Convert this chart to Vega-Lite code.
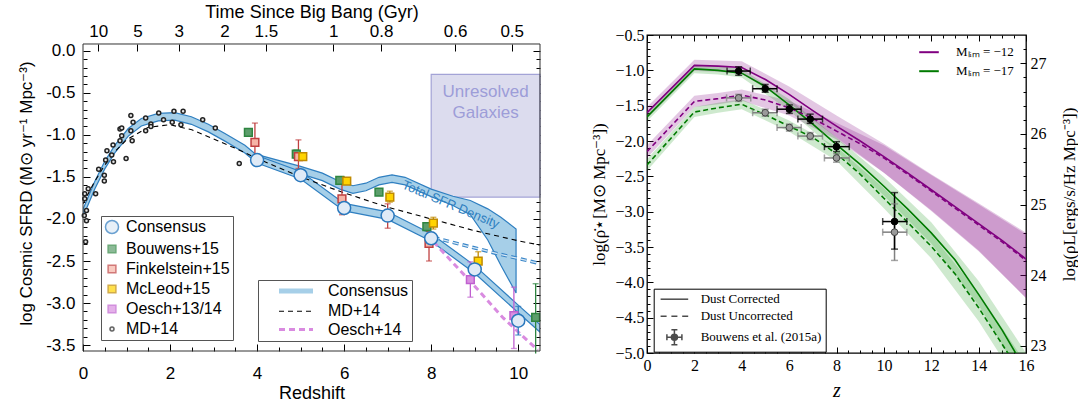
{
  "$schema": "https://vega.github.io/schema/vega-lite/v6.json",
  "padding": {"left": 17, "top": 3, "right": 0, "bottom": 0},
  "spacing": 47,
  "resolve": {
    "scale": {"color": "independent", "fill": "independent", "stroke": "independent", "shape": "independent", "size": "independent", "strokeDash": "independent", "strokeWidth": "independent"},
    "legend": {"color": "independent", "fill": "independent", "stroke": "independent", "shape": "independent", "size": "independent", "strokeDash": "independent", "strokeWidth": "independent"}
  },
  "config": {
    "axis": {"domain": false, "grid": false, "tickColor": "black", "labelColor": "black", "titleColor": "black", "titleFontWeight": "normal"},
    "legend": {"titleLimit": 0, "labelLimit": 0}
  },
  "datasets": {
    "frame": [{"z1": 0, "z2": 10.5, "v1": -3.57, "v2": 0.08}],
    "unres": [{"z1": 8.0, "z2": 10.5, "v1": -0.28, "v2": -1.74}],
    "ltext": [
      {"kind": "unres", "z": 9.25, "v": -0.49, "label": "Unresolved"},
      {"kind": "unres", "z": 9.25, "v": -0.74, "label": "Galaxies"},
      {"kind": "sfr", "z": 8.45, "v": -1.83, "label": "Total SFR Density"}
    ],
    "bandA": [
      {"z": 0, "lo": -1.975, "hi": -1.885},
      {"z": 0.27, "lo": -1.645, "hi": -1.555},
      {"z": 0.5, "lo": -1.405, "hi": -1.315},
      {"z": 0.73, "lo": -1.215, "hi": -1.125},
      {"z": 1.04, "lo": -1.015, "hi": -0.925},
      {"z": 1.34, "lo": -0.895, "hi": -0.805},
      {"z": 1.73, "lo": -0.835, "hi": -0.745},
      {"z": 2.11, "lo": -0.825, "hi": -0.735},
      {"z": 2.49, "lo": -0.875, "hi": -0.785},
      {"z": 2.88, "lo": -0.965, "hi": -0.875},
      {"z": 3.26, "lo": -1.075, "hi": -0.985},
      {"z": 3.72, "lo": -1.215, "hi": -1.125},
      {"z": 4.0, "lo": -1.335, "hi": -1.245},
      {"z": 5.0, "lo": -1.525, "hi": -1.435},
      {"z": 6.0, "lo": -1.905, "hi": -1.815},
      {"z": 7.0, "lo": -2.005, "hi": -1.915},
      {"z": 8.0, "lo": -2.265, "hi": -2.175},
      {"z": 9.0, "lo": -2.645, "hi": -2.555},
      {"z": 10.0, "lo": -3.115, "hi": -3.025},
      {"z": 10.5, "lo": -3.345, "hi": -3.255}
    ],
    "bandB": [
      {"z": 4.0, "lo": -1.325, "hi": -1.235},
      {"z": 5.0, "lo": -1.465, "hi": -1.375},
      {"z": 5.5, "lo": -1.545, "hi": -1.455},
      {"z": 5.9, "lo": -1.645, "hi": -1.555},
      {"z": 6.2, "lo": -1.695, "hi": -1.605},
      {"z": 6.5, "lo": -1.665, "hi": -1.575},
      {"z": 6.8, "lo": -1.595, "hi": -1.505},
      {"z": 7.1, "lo": -1.565, "hi": -1.475},
      {"z": 7.4, "lo": -1.595, "hi": -1.505},
      {"z": 8.0, "lo": -1.735, "hi": -1.645},
      {"z": 8.5, "lo": -1.84, "hi": -1.73},
      {"z": 8.9, "lo": -1.95, "hi": -1.78},
      {"z": 9.3, "lo": -2.25, "hi": -1.88},
      {"z": 9.6, "lo": -2.55, "hi": -1.98},
      {"z": 9.95, "lo": -2.88, "hi": -2.12}
    ],
    "cext": [
      {"z": 8.05, "v": -2.22},
      {"z": 9.5, "v": -2.41},
      {"z": 10.5, "v": -2.53}
    ],
    "llines": [
      {"line": "MD+14", "z": 0, "v": -1.82},
      {"line": "MD+14", "z": 0.25, "v": -1.57},
      {"line": "MD+14", "z": 0.5, "v": -1.36},
      {"line": "MD+14", "z": 0.75, "v": -1.19},
      {"line": "MD+14", "z": 1.0, "v": -1.06},
      {"line": "MD+14", "z": 1.5, "v": -0.91},
      {"line": "MD+14", "z": 2.0, "v": -0.88},
      {"line": "MD+14", "z": 2.5, "v": -0.94},
      {"line": "MD+14", "z": 3.0, "v": -1.05},
      {"line": "MD+14", "z": 3.5, "v": -1.16},
      {"line": "MD+14", "z": 4.0, "v": -1.28},
      {"line": "MD+14", "z": 5.0, "v": -1.50},
      {"line": "MD+14", "z": 6.0, "v": -1.69},
      {"line": "MD+14", "z": 7.0, "v": -1.86},
      {"line": "MD+14", "z": 8.0, "v": -2.00},
      {"line": "MD+14", "z": 9.0, "v": -2.14},
      {"line": "MD+14", "z": 10.0, "v": -2.26},
      {"line": "MD+14", "z": 10.5, "v": -2.31},
      {"line": "Oesch+14", "z": 8.05, "v": -2.27},
      {"line": "Oesch+14", "z": 9.0, "v": -2.80},
      {"line": "Oesch+14", "z": 9.66, "v": -3.18},
      {"line": "Oesch+14", "z": 10.45, "v": -3.56}
    ],
    "obs": [
      {"src": "MD+14", "z": 0.04, "v": -1.70},
      {"src": "MD+14", "z": 0.04, "v": -1.76},
      {"src": "MD+14", "z": 0.08, "v": -1.90},
      {"src": "MD+14", "z": 0.03, "v": -1.96},
      {"src": "MD+14", "z": 0.08, "v": -2.02},
      {"src": "MD+14", "z": 0.06, "v": -2.27},
      {"src": "MD+14", "z": 0.12, "v": -1.64},
      {"src": "MD+14", "z": 0.29, "v": -1.70},
      {"src": "MD+14", "z": 0.36, "v": -1.41},
      {"src": "MD+14", "z": 0.49, "v": -1.48},
      {"src": "MD+14", "z": 0.49, "v": -1.55},
      {"src": "MD+14", "z": 0.55, "v": -1.19},
      {"src": "MD+14", "z": 0.52, "v": -1.30},
      {"src": "MD+14", "z": 0.66, "v": -1.24},
      {"src": "MD+14", "z": 0.70, "v": -1.32},
      {"src": "MD+14", "z": 0.69, "v": -1.12},
      {"src": "MD+14", "z": 0.85, "v": -0.93},
      {"src": "MD+14", "z": 0.89, "v": -0.92},
      {"src": "MD+14", "z": 0.89, "v": -1.01},
      {"src": "MD+14", "z": 0.85, "v": -1.07},
      {"src": "MD+14", "z": 0.99, "v": -1.28},
      {"src": "MD+14", "z": 1.10, "v": -0.77},
      {"src": "MD+14", "z": 1.15, "v": -0.85},
      {"src": "MD+14", "z": 1.10, "v": -0.95},
      {"src": "MD+14", "z": 1.13, "v": -1.07},
      {"src": "MD+14", "z": 1.44, "v": -0.80},
      {"src": "MD+14", "z": 1.44, "v": -0.95},
      {"src": "MD+14", "z": 1.56, "v": -0.87},
      {"src": "MD+14", "z": 1.56, "v": -0.90},
      {"src": "MD+14", "z": 1.74, "v": -0.74},
      {"src": "MD+14", "z": 1.85, "v": -0.82},
      {"src": "MD+14", "z": 2.05, "v": -0.85},
      {"src": "MD+14", "z": 2.09, "v": -0.72},
      {"src": "MD+14", "z": 2.25, "v": -0.88},
      {"src": "MD+14", "z": 2.30, "v": -0.72},
      {"src": "MD+14", "z": 2.75, "v": -0.82},
      {"src": "MD+14", "z": 3.04, "v": -0.92},
      {"src": "MD+14", "z": 3.59, "v": -1.34},
      {"src": "Bouwens+15", "z": 3.8, "v": -0.97, "lo": -1.00, "hi": -0.94},
      {"src": "Bouwens+15", "z": 4.9, "v": -1.23, "lo": -1.28, "hi": -1.18},
      {"src": "Bouwens+15", "z": 5.9, "v": -1.54, "lo": -1.58, "hi": -1.50},
      {"src": "Bouwens+15", "z": 6.8, "v": -1.68, "lo": -1.72, "hi": -1.64},
      {"src": "Bouwens+15", "z": 7.9, "v": -2.09, "lo": -2.14, "hi": -2.05},
      {"src": "Bouwens+15", "z": 10.4, "v": -3.17, "lo": -3.60, "hi": -2.77},
      {"src": "Finkelstein+15", "z": 3.95, "v": -1.09, "lo": -1.28, "hi": -0.86},
      {"src": "Finkelstein+15", "z": 4.95, "v": -1.26, "lo": -1.40, "hi": -1.06},
      {"src": "Finkelstein+15", "z": 5.95, "v": -1.76, "lo": -1.95, "hi": -1.50},
      {"src": "Finkelstein+15", "z": 7.0, "v": -1.97, "lo": -2.11, "hi": -1.82},
      {"src": "Finkelstein+15", "z": 7.95, "v": -2.29, "lo": -2.50, "hi": -2.15},
      {"src": "McLeod+15", "z": 5.05, "v": -1.26, "lo": -1.30, "hi": -1.22},
      {"src": "McLeod+15", "z": 6.06, "v": -1.55, "lo": -1.59, "hi": -1.51},
      {"src": "McLeod+15", "z": 7.05, "v": -1.74, "lo": -1.80, "hi": -1.67},
      {"src": "McLeod+15", "z": 8.05, "v": -2.05, "lo": -2.12, "hi": -1.98},
      {"src": "McLeod+15", "z": 9.08, "v": -2.50, "lo": -2.60, "hi": -2.39},
      {"src": "Oesch+13/14", "z": 8.9, "v": -2.72, "lo": -2.93, "hi": -2.51},
      {"src": "Oesch+13/14", "z": 9.9, "v": -3.15, "lo": -3.54, "hi": -2.81},
      {"src": "Consensus", "z": 4.0, "v": -1.30, "lo": -1.33, "hi": -1.27},
      {"src": "Consensus", "z": 5.0, "v": -1.48, "lo": -1.51, "hi": -1.45},
      {"src": "Consensus", "z": 6.0, "v": -1.87, "lo": -1.90, "hi": -1.84},
      {"src": "Consensus", "z": 7.0, "v": -1.96, "lo": -1.99, "hi": -1.93},
      {"src": "Consensus", "z": 8.0, "v": -2.23, "lo": -2.27, "hi": -2.19},
      {"src": "Consensus", "z": 9.0, "v": -2.60, "lo": -2.65, "hi": -2.55},
      {"src": "Consensus", "z": 10.0, "v": -3.21, "lo": -3.38, "hi": -3.04}
    ],
    "rbands": [
      {"band": "p_c", "z": 0, "lo": -1.68, "hi": -1.52},
      {"band": "p_c", "z": 2, "lo": -1.01, "hi": -0.85},
      {"band": "p_c", "z": 3, "lo": -1.02, "hi": -0.86},
      {"band": "p_c", "z": 4, "lo": -1.05, "hi": -0.87},
      {"band": "p_c", "z": 6, "lo": -1.46, "hi": -1.23},
      {"band": "p_c", "z": 8, "lo": -1.95, "hi": -1.64},
      {"band": "p_c", "z": 10, "lo": -2.45, "hi": -2.04},
      {"band": "p_c", "z": 12, "lo": -2.98, "hi": -2.47},
      {"band": "p_c", "z": 14, "lo": -3.55, "hi": -2.88},
      {"band": "p_c", "z": 16, "lo": -4.22, "hi": -3.30},
      {"band": "p_u", "z": 0, "lo": -2.24, "hi": -2.06},
      {"band": "p_u", "z": 2, "lo": -1.52, "hi": -1.36},
      {"band": "p_u", "z": 3, "lo": -1.48, "hi": -1.32},
      {"band": "p_u", "z": 4, "lo": -1.43, "hi": -1.27},
      {"band": "p_u", "z": 6, "lo": -1.64, "hi": -1.43},
      {"band": "p_u", "z": 8, "lo": -1.98, "hi": -1.74},
      {"band": "p_u", "z": 10, "lo": -2.45, "hi": -2.06},
      {"band": "p_u", "z": 12, "lo": -2.99, "hi": -2.48},
      {"band": "p_u", "z": 14, "lo": -3.56, "hi": -2.90},
      {"band": "p_u", "z": 16, "lo": -4.22, "hi": -3.32},
      {"band": "g_c", "z": 0, "lo": -1.72, "hi": -1.60},
      {"band": "g_c", "z": 2, "lo": -1.04, "hi": -0.92},
      {"band": "g_c", "z": 3, "lo": -1.06, "hi": -0.94},
      {"band": "g_c", "z": 4, "lo": -1.10, "hi": -0.98},
      {"band": "g_c", "z": 6, "lo": -1.57, "hi": -1.41},
      {"band": "g_c", "z": 8, "lo": -2.15, "hi": -1.95},
      {"band": "g_c", "z": 10, "lo": -2.77, "hi": -2.51},
      {"band": "g_c", "z": 12, "lo": -3.45, "hi": -3.15},
      {"band": "g_c", "z": 14, "lo": -4.32, "hi": -3.98},
      {"band": "g_c", "z": 16, "lo": -5.45, "hi": -5.0},
      {"band": "g_u", "z": 0, "lo": -2.42, "hi": -2.26},
      {"band": "g_u", "z": 2, "lo": -1.66, "hi": -1.52},
      {"band": "g_u", "z": 3, "lo": -1.60, "hi": -1.46},
      {"band": "g_u", "z": 4, "lo": -1.55, "hi": -1.41},
      {"band": "g_u", "z": 6, "lo": -1.87, "hi": -1.71},
      {"band": "g_u", "z": 8, "lo": -2.28, "hi": -2.08},
      {"band": "g_u", "z": 10, "lo": -2.95, "hi": -2.67},
      {"band": "g_u", "z": 12, "lo": -3.66, "hi": -3.32},
      {"band": "g_u", "z": 14, "lo": -4.55, "hi": -4.15},
      {"band": "g_u", "z": 16, "lo": -5.6, "hi": -5.15}
    ],
    "rlines": [
      {"m": "-12", "dust": "c", "z": 0, "v": -1.60},
      {"m": "-12", "dust": "c", "z": 2, "v": -0.93},
      {"m": "-12", "dust": "c", "z": 3, "v": -0.94},
      {"m": "-12", "dust": "c", "z": 4, "v": -0.96},
      {"m": "-12", "dust": "c", "z": 5, "v": -1.13},
      {"m": "-12", "dust": "c", "z": 6, "v": -1.34},
      {"m": "-12", "dust": "c", "z": 7, "v": -1.57},
      {"m": "-12", "dust": "c", "z": 8, "v": -1.79},
      {"m": "-12", "dust": "c", "z": 9, "v": -2.00},
      {"m": "-12", "dust": "c", "z": 10, "v": -2.22},
      {"m": "-12", "dust": "c", "z": 11, "v": -2.45},
      {"m": "-12", "dust": "c", "z": 12, "v": -2.69},
      {"m": "-12", "dust": "c", "z": 13, "v": -2.93},
      {"m": "-12", "dust": "c", "z": 14, "v": -3.17},
      {"m": "-12", "dust": "c", "z": 15, "v": -3.41},
      {"m": "-12", "dust": "c", "z": 16, "v": -3.67},
      {"m": "-12", "dust": "u", "z": 0, "v": -2.15},
      {"m": "-12", "dust": "u", "z": 2, "v": -1.44},
      {"m": "-12", "dust": "u", "z": 3, "v": -1.40},
      {"m": "-12", "dust": "u", "z": 4, "v": -1.35},
      {"m": "-12", "dust": "u", "z": 5, "v": -1.42},
      {"m": "-12", "dust": "u", "z": 6, "v": -1.53},
      {"m": "-12", "dust": "u", "z": 7, "v": -1.68},
      {"m": "-12", "dust": "u", "z": 8, "v": -1.86},
      {"m": "-12", "dust": "u", "z": 9, "v": -2.04},
      {"m": "-12", "dust": "u", "z": 10, "v": -2.24},
      {"m": "-12", "dust": "u", "z": 11, "v": -2.47},
      {"m": "-12", "dust": "u", "z": 12, "v": -2.71},
      {"m": "-12", "dust": "u", "z": 13, "v": -2.95},
      {"m": "-12", "dust": "u", "z": 14, "v": -3.19},
      {"m": "-12", "dust": "u", "z": 15, "v": -3.43},
      {"m": "-12", "dust": "u", "z": 16, "v": -3.69},
      {"m": "-17", "dust": "c", "z": 0, "v": -1.66},
      {"m": "-17", "dust": "c", "z": 2, "v": -0.98},
      {"m": "-17", "dust": "c", "z": 3, "v": -1.00},
      {"m": "-17", "dust": "c", "z": 4, "v": -1.04},
      {"m": "-17", "dust": "c", "z": 5, "v": -1.23},
      {"m": "-17", "dust": "c", "z": 6, "v": -1.49},
      {"m": "-17", "dust": "c", "z": 7, "v": -1.76},
      {"m": "-17", "dust": "c", "z": 8, "v": -2.05},
      {"m": "-17", "dust": "c", "z": 9, "v": -2.33},
      {"m": "-17", "dust": "c", "z": 10, "v": -2.64},
      {"m": "-17", "dust": "c", "z": 11, "v": -2.96},
      {"m": "-17", "dust": "c", "z": 12, "v": -3.30},
      {"m": "-17", "dust": "c", "z": 13, "v": -3.68},
      {"m": "-17", "dust": "c", "z": 14, "v": -4.17},
      {"m": "-17", "dust": "c", "z": 15, "v": -4.68},
      {"m": "-17", "dust": "c", "z": 16, "v": -5.25},
      {"m": "-17", "dust": "u", "z": 0, "v": -2.34},
      {"m": "-17", "dust": "u", "z": 2, "v": -1.59},
      {"m": "-17", "dust": "u", "z": 3, "v": -1.53},
      {"m": "-17", "dust": "u", "z": 4, "v": -1.48},
      {"m": "-17", "dust": "u", "z": 5, "v": -1.63},
      {"m": "-17", "dust": "u", "z": 6, "v": -1.79},
      {"m": "-17", "dust": "u", "z": 7, "v": -1.95},
      {"m": "-17", "dust": "u", "z": 8, "v": -2.18},
      {"m": "-17", "dust": "u", "z": 9, "v": -2.47},
      {"m": "-17", "dust": "u", "z": 10, "v": -2.81},
      {"m": "-17", "dust": "u", "z": 11, "v": -3.15},
      {"m": "-17", "dust": "u", "z": 12, "v": -3.49},
      {"m": "-17", "dust": "u", "z": 13, "v": -3.88},
      {"m": "-17", "dust": "u", "z": 14, "v": -4.36},
      {"m": "-17", "dust": "u", "z": 15, "v": -4.88},
      {"m": "-17", "dust": "u", "z": 16, "v": -5.4}
    ],
    "rpts": [
      {"kind": "gray", "lg": "Bouwens et al. (2015a)", "z": 3.87, "v": -1.39, "xlo": 3.36, "xhi": 4.38, "ylo": -1.44, "yhi": -1.34},
      {"kind": "gray", "lg": "Bouwens et al. (2015a)", "z": 4.99, "v": -1.60, "xlo": 4.46, "xhi": 5.49, "ylo": -1.65, "yhi": -1.55},
      {"kind": "gray", "lg": "Bouwens et al. (2015a)", "z": 6.01, "v": -1.81, "xlo": 5.49, "xhi": 6.51, "ylo": -1.86, "yhi": -1.76},
      {"kind": "gray", "lg": "Bouwens et al. (2015a)", "z": 6.89, "v": -1.93, "xlo": 6.37, "xhi": 7.41, "ylo": -1.98, "yhi": -1.88},
      {"kind": "gray", "lg": "Bouwens et al. (2015a)", "z": 8.0, "v": -2.24, "xlo": 7.49, "xhi": 8.54, "ylo": -2.30, "yhi": -2.18},
      {"kind": "gray", "lg": "Bouwens et al. (2015a)", "z": 10.45, "v": -3.29, "xlo": 9.95, "xhi": 10.97, "ylo": -3.69, "yhi": -2.89},
      {"kind": "black", "lg": "Bouwens et al. (2015a)", "z": 3.87, "v": -1.01, "xlo": 3.38, "xhi": 4.36, "ylo": -1.07, "yhi": -0.95},
      {"kind": "black", "lg": "Bouwens et al. (2015a)", "z": 4.99, "v": -1.26, "xlo": 4.46, "xhi": 5.49, "ylo": -1.31, "yhi": -1.20},
      {"kind": "black", "lg": "Bouwens et al. (2015a)", "z": 6.01, "v": -1.55, "xlo": 5.49, "xhi": 6.51, "ylo": -1.61, "yhi": -1.49},
      {"kind": "black", "lg": "Bouwens et al. (2015a)", "z": 6.89, "v": -1.69, "xlo": 6.37, "xhi": 7.41, "ylo": -1.75, "yhi": -1.62},
      {"kind": "black", "lg": "Bouwens et al. (2015a)", "z": 8.0, "v": -2.08, "xlo": 7.49, "xhi": 8.54, "ylo": -2.15, "yhi": -2.01},
      {"kind": "black", "lg": "Bouwens et al. (2015a)", "z": 10.45, "v": -3.14, "xlo": 9.95, "xhi": 10.97, "ylo": -3.53, "yhi": -2.73}
    ]
  },
  "hconcat": [
    {
      "width": 457,
      "height": 316,
      "view": {"stroke": null},
      "resolve": {"axis": {"x": "independent", "y": "independent"}},
      "layer": [
        {
          "data": {"name": "unres"},
          "mark": {"type": "rect", "fill": "#dcdcee", "stroke": "#a3a3d6", "strokeWidth": 1.2},
          "encoding": {
            "x": {"field": "z1", "type": "quantitative", "scale": {"domain": [0, 10.5], "nice": false, "zero": false},
              "axis": {"orient": "bottom", "values": [0, 2, 4, 6, 8, 10], "format": "d", "title": "Redshift", "titleFont": "Liberation Sans", "titleFontSize": 18, "titlePadding": 3, "labelFont": "Liberation Sans", "labelFontSize": 17, "labelPadding": 14, "labelFlush": false, "labelOverlap": false, "tickSize": 7, "offset": -7}},
            "x2": {"field": "z2"},
            "y": {"field": "v1", "type": "quantitative", "scale": {"domain": [-3.57, 0.187], "nice": false, "zero": false},
              "axis": {"orient": "left", "values": [0, -0.5, -1, -1.5, -2, -2.5, -3, -3.5], "labelExpr": "replace(format(datum.value,'.1f'),'−','-')", "title": "log Cosmic SFRD (M⊙ yr⁻¹ Mpc⁻³)", "titleFont": "Liberation Sans", "titleFontSize": 17, "titlePadding": 10, "labelFont": "Liberation Sans", "labelFontSize": 17, "labelPadding": 8, "labelFlush": false, "labelOverlap": false, "tickSize": 7, "offset": -7}},
            "y2": {"field": "v2"}
          }
        },
        {
          "data": {"name": "ltext"},
          "transform": [{"filter": "datum.kind == 'unres'"}],
          "mark": {"type": "text", "font": "Liberation Sans", "fontSize": 17, "color": "#9d9dd8", "align": "center", "baseline": "middle"},
          "encoding": {
            "x": {"field": "z", "type": "quantitative", "scale": {"domain": [0, 10.5], "nice": false, "zero": false},
              "axis": {"orient": "bottom", "values": [0.5, 1, 1.5, 2.5, 3, 3.5, 4.5, 5, 5.5, 6.5, 7, 7.5, 8.5, 9, 9.5], "labels": false, "title": null, "tickSize": 4, "offset": -4}},
            "y": {"field": "v", "type": "quantitative", "scale": {"domain": [-3.57, 0.187], "nice": false, "zero": false},
              "axis": {"orient": "left", "values": [-0.1, -0.2, -0.3, -0.4, -0.6, -0.7, -0.8, -0.9, -1.1, -1.2, -1.3, -1.4, -1.6, -1.7, -1.8, -1.9, -2.1, -2.2, -2.3, -2.4, -2.6, -2.7, -2.8, -2.9, -3.1, -3.2, -3.3, -3.4], "labels": false, "title": null, "tickSize": 4, "offset": -4}},
            "text": {"field": "label"}
          }
        },
        {
          "data": {"name": "bandB"},
          "mark": {"type": "area", "fill": "#a6cfe8", "stroke": "#2f7fc0", "strokeWidth": 1.2, "clip": true},
          "encoding": {
            "x": {"field": "z", "type": "quantitative", "scale": {"domain": [0, 10.5], "nice": false, "zero": false},
              "axis": {"orient": "top", "values": [0.35, 1.25, 2.2, 3.25, 4.2, 5.75, 6.85, 8.55, 9.85], "labelExpr": "['10','5','3','2','1.5','1','0.8','0.6','0.5'][indexof([0.35,1.25,2.2,3.25,4.2,5.75,6.85,8.55,9.85], datum.value)]", "title": "Time Since Big Bang (Gyr)", "titleFont": "Liberation Sans", "titleFontSize": 18, "titlePadding": 1, "labelFont": "Liberation Sans", "labelFontSize": 17, "labelPadding": 4, "labelFlush": false, "labelOverlap": false, "tickSize": 7, "offset": -16}},
            "y": {"field": "lo", "type": "quantitative", "scale": {"domain": [-3.57, 0.187], "nice": false, "zero": false},
              "axis": {"orient": "right", "values": [0, -0.5, -1, -1.5, -2, -2.5, -3, -3.5], "labels": false, "title": null, "tickSize": 7, "offset": -7}},
            "y2": {"field": "hi"}
          }
        },
        {
          "data": {"name": "bandA"},
          "mark": {"type": "area", "fill": "#a6cfe8", "stroke": "#2f7fc0", "strokeWidth": 1.2, "clip": true},
          "encoding": {
            "x": {"field": "z", "type": "quantitative", "scale": {"domain": [0, 10.5], "nice": false, "zero": false}, "axis": null},
            "y": {"field": "lo", "type": "quantitative", "scale": {"domain": [-3.57, 0.187], "nice": false, "zero": false},
              "axis": {"orient": "right", "values": [-0.1, -0.2, -0.3, -0.4, -0.6, -0.7, -0.8, -0.9, -1.1, -1.2, -1.3, -1.4, -1.6, -1.7, -1.8, -1.9, -2.1, -2.2, -2.3, -2.4, -2.6, -2.7, -2.8, -2.9, -3.1, -3.2, -3.3, -3.4], "labels": false, "title": null, "tickSize": 4, "offset": -4}},
            "y2": {"field": "hi"}
          }
        },
        {
          "data": {"name": "ltext"},
          "transform": [{"filter": "datum.kind == 'sfr'"}],
          "mark": {"type": "text", "font": "Liberation Sans", "fontSize": 13, "color": "#2f7fc0", "align": "center", "baseline": "middle", "angle": 23},
          "encoding": {
            "x": {"field": "z", "type": "quantitative", "scale": {"domain": [0, 10.5], "nice": false, "zero": false}, "axis": null},
            "y": {"field": "v", "type": "quantitative", "scale": {"domain": [-3.57, 0.187], "nice": false, "zero": false}, "axis": null},
            "text": {"field": "label"}
          }
        },
        {
          "data": {"name": "cext"},
          "mark": {"type": "line", "stroke": "#3a86c8", "strokeWidth": 3.5, "strokeDash": [6, 4], "clip": true},
          "encoding": {
            "x": {"field": "z", "type": "quantitative", "scale": {"domain": [0, 10.5], "nice": false, "zero": false}, "axis": null},
            "y": {"field": "v", "type": "quantitative", "scale": {"domain": [-3.57, 0.187], "nice": false, "zero": false}, "axis": null}
          }
        },
        {
          "data": {"name": "cext"},
          "mark": {"type": "line", "stroke": "#d6e8f5", "strokeWidth": 1.3, "strokeDash": [6, 4], "clip": true},
          "encoding": {
            "x": {"field": "z", "type": "quantitative", "scale": {"domain": [0, 10.5], "nice": false, "zero": false}, "axis": null},
            "y": {"field": "v", "type": "quantitative", "scale": {"domain": [-3.57, 0.187], "nice": false, "zero": false}, "axis": null}
          }
        },
        {
          "data": {"name": "llines"},
          "mark": {"type": "line", "clip": true},
          "encoding": {
            "x": {"field": "z", "type": "quantitative", "scale": {"domain": [0, 10.5], "nice": false, "zero": false}, "axis": null},
            "y": {"field": "v", "type": "quantitative", "scale": {"domain": [-3.57, 0.187], "nice": false, "zero": false}, "axis": null},
            "color": {"field": "line", "type": "nominal", "scale": {"type": "ordinal", "domain": ["Consensus", "MD+14", "Oesch+14"], "range": ["#a6cfe8", "black", "#d98be0"]},
              "legend": {"orient": "none", "legendX": 175, "legendY": 245, "title": null, "labelFont": "Liberation Sans", "labelFontSize": 16, "labelColor": "black", "strokeColor": "#555", "fillColor": "white", "padding": 3, "rowPadding": 2.3, "symbolType": "M-8.5,0H8.5", "symbolSize": 16, "symbolOffset": 27, "labelOffset": 24}},
            "strokeDash": {"field": "line", "type": "nominal", "scale": {"type": "ordinal", "domain": ["Consensus", "MD+14", "Oesch+14"], "range": [[1, 0], [5, 4], [6, 4]]},
              "legend": {"orient": "none", "legendX": 175, "legendY": 245, "title": null, "labelFont": "Liberation Sans", "labelFontSize": 16, "labelColor": "black", "strokeColor": "#555", "fillColor": "white", "padding": 3, "rowPadding": 2.3, "symbolType": "M-8.5,0H8.5", "symbolSize": 16, "symbolOffset": 27, "labelOffset": 24}},
            "strokeWidth": {"field": "line", "type": "nominal", "scale": {"type": "ordinal", "domain": ["Consensus", "MD+14", "Oesch+14"], "range": [5, 1.1, 3]},
              "legend": {"orient": "none", "legendX": 175, "legendY": 245, "title": null, "labelFont": "Liberation Sans", "labelFontSize": 16, "labelColor": "black", "strokeColor": "#555", "fillColor": "white", "padding": 3, "rowPadding": 2.3, "symbolType": "M-8.5,0H8.5", "symbolSize": 16, "symbolOffset": 27, "labelOffset": 24}}
          }
        },
        {
          "data": {"name": "obs"},
          "transform": [{"filter": "isValid(datum.lo)"}],
          "mark": {"type": "rule", "strokeWidth": 1.3},
          "encoding": {
            "x": {"field": "z", "type": "quantitative", "scale": {"domain": [0, 10.5], "nice": false, "zero": false}, "axis": null},
            "y": {"field": "lo", "type": "quantitative", "scale": {"domain": [-3.57, 0.187], "nice": false, "zero": false}, "axis": null},
            "y2": {"field": "hi"},
            "stroke": {"field": "src", "type": "nominal", "scale": {"type": "ordinal", "domain": ["Consensus", "Bouwens+15", "Finkelstein+15", "McLeod+15", "Oesch+13/14", "MD+14"], "range": ["#2a78bd", "#2e8540", "#c04040", "#c08a00", "#c060d0", "#222222"]},
              "legend": {"orient": "none", "legendX": 18, "legendY": 181, "title": null, "labelFont": "Liberation Sans", "labelFontSize": 16, "labelColor": "black", "strokeColor": "#555", "fillColor": "white", "padding": 3, "rowPadding": 4, "labelOffset": 6, "symbolStrokeWidth": 1.5}}
          }
        },
        {
          "data": {"name": "obs"},
          "transform": [{"filter": "isValid(datum.lo)"}, {"fold": ["lo", "hi"], "as": ["which", "val"]}],
          "mark": {"type": "point", "shape": "stroke", "size": 36, "strokeWidth": 1.3, "filled": false, "clip": true},
          "encoding": {
            "x": {"field": "z", "type": "quantitative", "scale": {"domain": [0, 10.5], "nice": false, "zero": false}, "axis": null},
            "y": {"field": "val", "type": "quantitative", "scale": {"domain": [-3.57, 0.187], "nice": false, "zero": false}, "axis": null},
            "stroke": {"field": "src", "type": "nominal", "scale": {"type": "ordinal", "domain": ["Consensus", "Bouwens+15", "Finkelstein+15", "McLeod+15", "Oesch+13/14", "MD+14"], "range": ["#2a78bd", "#2e8540", "#c04040", "#c08a00", "#c060d0", "#222222"]},
              "legend": {"orient": "none", "legendX": 18, "legendY": 181, "title": null, "labelFont": "Liberation Sans", "labelFontSize": 16, "labelColor": "black", "strokeColor": "#555", "fillColor": "white", "padding": 3, "rowPadding": 4, "labelOffset": 6, "symbolStrokeWidth": 1.5}}
          }
        },
        {
          "data": {"name": "obs"},
          "mark": {"type": "point", "filled": true, "strokeWidth": 1.5, "opacity": 1},
          "encoding": {
            "x": {"field": "z", "type": "quantitative", "scale": {"domain": [0, 10.5], "nice": false, "zero": false}, "axis": null},
            "y": {"field": "v", "type": "quantitative", "scale": {"domain": [-3.57, 0.187], "nice": false, "zero": false}, "axis": null},
            "fill": {"field": "src", "type": "nominal", "scale": {"type": "ordinal", "domain": ["Consensus", "Bouwens+15", "Finkelstein+15", "McLeod+15", "Oesch+13/14", "MD+14"], "range": ["#dfeaf6", "#5c9e6c", "#f6b4a6", "#ffd400", "#d990e0", "#e6e6e6"]},
              "legend": {"orient": "none", "legendX": 18, "legendY": 181, "title": null, "labelFont": "Liberation Sans", "labelFontSize": 16, "labelColor": "black", "strokeColor": "#555", "fillColor": "white", "padding": 3, "rowPadding": 4, "labelOffset": 6, "symbolStrokeWidth": 1.5}},
            "stroke": {"field": "src", "type": "nominal", "scale": {"type": "ordinal", "domain": ["Consensus", "Bouwens+15", "Finkelstein+15", "McLeod+15", "Oesch+13/14", "MD+14"], "range": ["#2a78bd", "#2e8540", "#c04040", "#c08a00", "#c060d0", "#222222"]},
              "legend": {"orient": "none", "legendX": 18, "legendY": 181, "title": null, "labelFont": "Liberation Sans", "labelFontSize": 16, "labelColor": "black", "strokeColor": "#555", "fillColor": "white", "padding": 3, "rowPadding": 4, "labelOffset": 6, "symbolStrokeWidth": 1.5}},
            "shape": {"field": "src", "type": "nominal", "scale": {"type": "ordinal", "domain": ["Consensus", "Bouwens+15", "Finkelstein+15", "McLeod+15", "Oesch+13/14", "MD+14"], "range": ["circle", "square", "square", "square", "square", "circle"]},
              "legend": {"orient": "none", "legendX": 18, "legendY": 181, "title": null, "labelFont": "Liberation Sans", "labelFontSize": 16, "labelColor": "black", "strokeColor": "#555", "fillColor": "white", "padding": 3, "rowPadding": 4, "labelOffset": 6, "symbolStrokeWidth": 1.5}},
            "size": {"field": "src", "type": "nominal", "scale": {"type": "ordinal", "domain": ["Consensus", "Bouwens+15", "Finkelstein+15", "McLeod+15", "Oesch+13/14", "MD+14"], "range": [170, 60, 60, 60, 60, 16]},
              "legend": {"orient": "none", "legendX": 18, "legendY": 181, "title": null, "labelFont": "Liberation Sans", "labelFontSize": 16, "labelColor": "black", "strokeColor": "#555", "fillColor": "white", "padding": 3, "rowPadding": 4, "labelOffset": 6, "symbolStrokeWidth": 1.5}}
          }
        },
        {
          "data": {"name": "frame"},
          "mark": {"type": "rect", "filled": false, "stroke": "#333333", "strokeWidth": 1},
          "encoding": {
            "x": {"field": "z1", "type": "quantitative", "scale": {"domain": [0, 10.5], "nice": false, "zero": false}, "axis": null},
            "x2": {"field": "z2"},
            "y": {"field": "v1", "type": "quantitative", "scale": {"domain": [-3.57, 0.187], "nice": false, "zero": false}, "axis": null},
            "y2": {"field": "v2"}
          }
        }
      ]
    },
    {
      "width": 379,
      "height": 318,
      "view": {"stroke": "black", "strokeWidth": 1.3},
      "resolve": {"axis": {"x": "independent", "y": "independent"}},
      "layer": [
        {
          "data": {"name": "rbands"},
          "mark": {"type": "area", "fillOpacity": 0.22, "clip": true},
          "encoding": {
            "x": {"field": "z", "type": "quantitative", "scale": {"domain": [0, 16], "nice": false, "zero": false},
              "axis": {"orient": "bottom", "values": [0, 2, 4, 6, 8, 10, 12, 14, 16], "format": "d", "title": "z", "titleFont": "Liberation Serif", "titleFontStyle": "italic", "titleFontSize": 20, "titlePadding": 7, "labelFont": "Liberation Serif", "labelFontSize": 16, "labelPadding": 4, "labelFlush": false, "labelOverlap": false, "tickSize": 6, "offset": -6}},
            "y": {"field": "lo", "type": "quantitative", "scale": {"domain": [-5, -0.5], "nice": false, "zero": false},
              "axis": {"orient": "left", "values": [-5, -4.5, -4, -3.5, -3, -2.5, -2, -1.5, -1, -0.5], "format": ".1f", "title": "log(ρ̇⋆[M⊙ Mpc⁻³])", "titleFont": "Liberation Serif", "titleFontSize": 17, "titlePadding": 6, "labelFont": "Liberation Serif", "labelFontSize": 16, "labelPadding": 3, "labelFlush": false, "labelOverlap": false, "tickSize": 6, "offset": -6}},
            "y2": {"field": "hi"},
            "fill": {"field": "band", "type": "nominal", "scale": {"type": "ordinal", "domain": ["p_c", "p_u", "g_c", "g_u"], "range": ["#800080", "#800080", "#1f9a1f", "#1f9a1f"]}, "legend": null}
          }
        },
        {
          "data": {"name": "rlines"},
          "transform": [{"filter": "datum.dust == 'c'"}],
          "mark": {"type": "line", "strokeWidth": 1.6, "clip": true},
          "encoding": {
            "x": {"field": "z", "type": "quantitative", "scale": {"domain": [0, 16], "nice": false, "zero": false},
              "axis": {"orient": "bottom", "values": [0.5, 1, 1.5, 2.5, 3, 3.5, 4.5, 5, 5.5, 6.5, 7, 7.5, 8.5, 9, 9.5, 10.5, 11, 11.5, 12.5, 13, 13.5, 14.5, 15, 15.5], "labels": false, "title": null, "tickSize": 3, "offset": -3}},
            "y": {"field": "v", "type": "quantitative", "scale": {"domain": [-5, -0.5], "nice": false, "zero": false},
              "axis": {"orient": "left", "values": [-4.9, -4.8, -4.7, -4.6, -4.4, -4.3, -4.2, -4.1, -3.9, -3.8, -3.7, -3.6, -3.4, -3.3, -3.2, -3.1, -2.9, -2.8, -2.7, -2.6, -2.4, -2.3, -2.2, -2.1, -1.9, -1.8, -1.7, -1.6, -1.4, -1.3, -1.2, -1.1, -0.9, -0.8, -0.7, -0.6], "labels": false, "title": null, "tickSize": 3, "offset": -3}},
            "color": {"field": "m", "type": "nominal", "scale": {"type": "ordinal", "domain": ["-12", "-17"], "range": ["#800080", "#007a00"]},
              "legend": {"orient": "none", "legendX": 262, "legendY": 10.7, "title": null, "labelFont": "Liberation Serif", "labelFontSize": 13, "labelColor": "black", "padding": 0, "rowPadding": 5, "symbolType": "M-4.9,0H4.9", "symbolSize": 16, "symbolOffset": 13.5, "symbolStrokeWidth": 2, "labelOffset": 20.5, "labelExpr": "'Mₗᵢₘ = −' + slice(datum.label, 1)"}}
          }
        },
        {
          "data": {"name": "rlines"},
          "transform": [{"filter": "datum.dust == 'u'"}],
          "mark": {"type": "line", "strokeWidth": 1.6, "strokeDash": [5, 3], "clip": true},
          "encoding": {
            "x": {"field": "z", "type": "quantitative", "scale": {"domain": [0, 16], "nice": false, "zero": false},
              "axis": {"orient": "top", "values": [0, 2, 4, 6, 8, 10, 12, 14, 16], "labels": false, "title": null, "tickSize": 6, "offset": -6}},
            "y": {"field": "v", "type": "quantitative", "scale": {"domain": [-5, -0.5], "nice": false, "zero": false},
              "axis": {"orient": "right", "values": [-0.9, -1.9, -2.9, -3.9, -4.9], "labelExpr": "format(datum.value + 27.9, '.0f')", "title": "log(ρL[ergs/s/Hz Mpc⁻³])", "titleAngle": 270, "titleBaseline": "top", "titleFont": "Liberation Serif", "titleFontSize": 17, "titlePadding": 15, "labelFont": "Liberation Serif", "labelFontSize": 16, "labelPadding": 4, "labelFlush": false, "labelOverlap": false, "tickSize": 6, "offset": -6}},
            "color": {"field": "m", "type": "nominal", "scale": {"type": "ordinal", "domain": ["-12", "-17"], "range": ["#800080", "#007a00"]},
              "legend": {"orient": "none", "legendX": 262, "legendY": 10.7, "title": null, "labelFont": "Liberation Serif", "labelFontSize": 13, "labelColor": "black", "padding": 0, "rowPadding": 5, "symbolType": "M-4.9,0H4.9", "symbolSize": 16, "symbolOffset": 13.5, "symbolStrokeWidth": 2, "labelOffset": 20.5, "labelExpr": "'Mₗᵢₘ = −' + slice(datum.label, 1)"}}
          }
        },
        {
          "data": {"name": "rpts"},
          "mark": {"type": "rule", "strokeWidth": 1.5},
          "encoding": {
            "x": {"field": "z", "type": "quantitative", "scale": {"domain": [0, 16], "nice": false, "zero": false},
              "axis": {"orient": "top", "values": [0.5, 1, 1.5, 2.5, 3, 3.5, 4.5, 5, 5.5, 6.5, 7, 7.5, 8.5, 9, 9.5, 10.5, 11, 11.5, 12.5, 13, 13.5, 14.5, 15, 15.5], "labels": false, "title": null, "tickSize": 3, "offset": -3}},
            "y": {"field": "ylo", "type": "quantitative", "scale": {"domain": [-5, -0.5], "nice": false, "zero": false},
              "axis": {"orient": "right", "values": [-4.7, -4.5, -4.3, -4.1, -3.7, -3.5, -3.3, -3.1, -2.7, -2.5, -2.3, -2.1, -1.7, -1.5, -1.3, -1.1, -0.7], "labels": false, "title": null, "tickSize": 3, "offset": -3}},
            "y2": {"field": "yhi"},
            "stroke": {"field": "kind", "type": "nominal", "scale": {"type": "ordinal", "domain": ["black", "gray"], "range": ["black", "#808080"]}, "legend": null}
          }
        },
        {
          "data": {"name": "rpts"},
          "mark": {"type": "rule", "strokeWidth": 1.5},
          "encoding": {
            "x": {"field": "xlo", "type": "quantitative", "scale": {"domain": [0, 16], "nice": false, "zero": false}, "axis": null},
            "x2": {"field": "xhi"},
            "y": {"field": "v", "type": "quantitative", "scale": {"domain": [-5, -0.5], "nice": false, "zero": false}, "axis": null},
            "stroke": {"field": "kind", "type": "nominal", "scale": {"type": "ordinal", "domain": ["black", "gray"], "range": ["black", "#808080"]}, "legend": null}
          }
        },
        {
          "data": {"name": "rpts"},
          "transform": [{"fold": ["ylo", "yhi"], "as": ["which", "val"]}],
          "mark": {"type": "point", "shape": "stroke", "size": 49, "strokeWidth": 1.5, "filled": false},
          "encoding": {
            "x": {"field": "z", "type": "quantitative", "scale": {"domain": [0, 16], "nice": false, "zero": false}, "axis": null},
            "y": {"field": "val", "type": "quantitative", "scale": {"domain": [-5, -0.5], "nice": false, "zero": false}, "axis": null},
            "stroke": {"field": "kind", "type": "nominal", "scale": {"type": "ordinal", "domain": ["black", "gray"], "range": ["black", "#808080"]}, "legend": null}
          }
        },
        {
          "data": {"name": "rpts"},
          "transform": [{"fold": ["xlo", "xhi"], "as": ["which", "val"]}],
          "mark": {"type": "point", "shape": "M0,-1V1", "size": 49, "strokeWidth": 1.5, "filled": false},
          "encoding": {
            "x": {"field": "val", "type": "quantitative", "scale": {"domain": [0, 16], "nice": false, "zero": false}, "axis": null},
            "y": {"field": "v", "type": "quantitative", "scale": {"domain": [-5, -0.5], "nice": false, "zero": false}, "axis": null},
            "stroke": {"field": "kind", "type": "nominal", "scale": {"type": "ordinal", "domain": ["black", "gray"], "range": ["black", "#808080"]}, "legend": null}
          }
        },
        {
          "data": {"name": "rpts"},
          "transform": [{"filter": "datum.kind == 'gray'"}],
          "mark": {"type": "point", "shape": "circle", "filled": true, "fill": "#9a9a9a", "stroke": "#444444", "strokeWidth": 1, "size": 45, "opacity": 1},
          "encoding": {
            "x": {"field": "z", "type": "quantitative", "scale": {"domain": [0, 16], "nice": false, "zero": false}, "axis": null},
            "y": {"field": "v", "type": "quantitative", "scale": {"domain": [-5, -0.5], "nice": false, "zero": false}, "axis": null}
          }
        },
        {
          "data": {"name": "rpts"},
          "transform": [{"filter": "datum.kind == 'black'"}],
          "mark": {"type": "point", "shape": "circle", "filled": true, "fill": "black", "stroke": "black", "strokeWidth": 1, "size": 45, "opacity": 1},
          "encoding": {
            "x": {"field": "z", "type": "quantitative", "scale": {"domain": [0, 16], "nice": false, "zero": false}, "axis": null},
            "y": {"field": "v", "type": "quantitative", "scale": {"domain": [-5, -0.5], "nice": false, "zero": false}, "axis": null}
          }
        },
        {
          "data": {"name": "rpts"},
          "transform": [{"filter": "datum.kind == 'black'"}],
          "mark": {"type": "point", "filled": true, "fill": "black", "stroke": "black", "strokeWidth": 1.5, "size": 0},
          "encoding": {
            "x": {"field": "z", "type": "quantitative", "scale": {"domain": [0, 16], "nice": false, "zero": false}, "axis": null},
            "y": {"field": "v", "type": "quantitative", "scale": {"domain": [-5, -0.5], "nice": false, "zero": false}, "axis": null},
            "shape": {"field": "lg", "type": "nominal",
              "scale": {"type": "ordinal", "domain": ["Dust Corrected", "Dust Uncorrected", "Bouwens et al. (2015a)"], "range": ["M-4.6,0H4.6", "M-4.6,0H-2.6M-1,0H1M2.6,0H4.6", "M-2.5,0H2.5M0,-2.5V2.5M-2.5,-1V1M2.5,-1V1M-1,-2.5H1M-1,2.5H1M-1,0A1,1 0 1,0 1,0A1,1 0 1,0 -1,0Z"]},
              "legend": {"orient": "none", "legendX": 6.7, "legendY": 253.7, "title": null, "labelFont": "Liberation Serif", "labelFontSize": 13, "labelColor": "black", "strokeColor": "black", "fillColor": "white", "padding": 4, "rowPadding": 3, "symbolSize": 36, "symbolOffset": 10.2, "labelOffset": 19.8, "symbolStrokeWidth": 1.5}}
          }
        }
      ]
    }
  ]
}
